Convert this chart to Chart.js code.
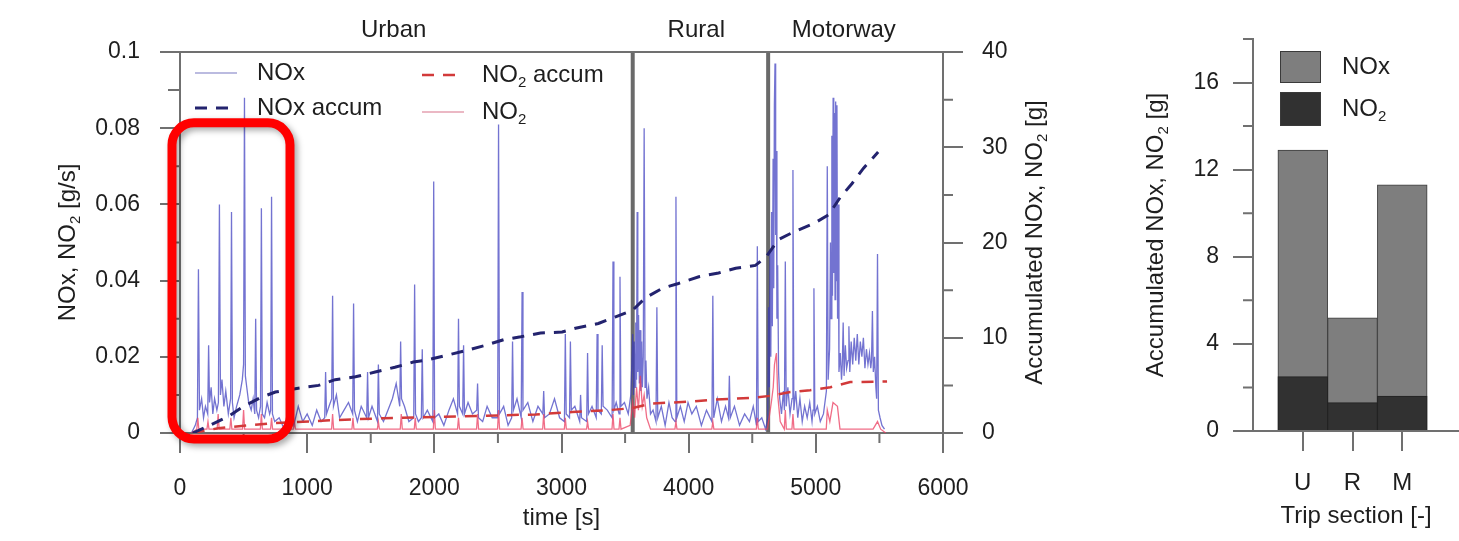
<!DOCTYPE html>
<html>
<head>
<meta charset="utf-8">
<script src="https://cdn.jsdelivr.net/npm/chart.js@4.4.0/dist/chart.umd.min.js"></script>
<style>
  body { margin: 0; background: #fff; }
  #wrap { position: relative; width: 1459px; height: 541px; overflow: hidden; }
  #left { position: absolute; left: 0; top: 0; }
  #right { position: absolute; left: 1080px; top: 0; }
</style>
</head>
<body>
<div id="wrap">
  <canvas id="left" width="1080" height="541"></canvas>
  <canvas id="right" width="379" height="541"></canvas>
</div>
<script>
// trip sections
const sectionNames = ["Urban", "Rural", "Motorway"];
const sectionLabelTimes = [1680, 4060, 5220];
const sectionEdges = [3560, 4625];

// NOx emission rate [g/s] as [time s, value]
const noxRate = [
  [90, 0.000], [120, 0.002], [137, 0.004], [145, 0.043], [153, 0.006], [170, 0.009], [185, 0.004], [200, 0.007],
  [218, 0.005], [225, 0.023], [232, 0.008], [245, 0.012], [258, 0.005], [272, 0.009], [290, 0.006],
  [302, 0.008], [310, 0.060], [318, 0.010], [330, 0.014], [345, 0.007], [360, 0.011], [380, 0.005],
  [398, 0.009], [405, 0.058], [412, 0.008], [425, 0.004], [445, 0.007], [470, 0.010], [490, 0.014],
  [500, 0.018], [507, 0.088], [514, 0.015], [525, 0.012], [540, 0.008], [560, 0.006], [575, 0.009],
  [588, 0.005], [595, 0.030], [602, 0.006], [618, 0.004], [633, 0.007], [640, 0.059], [647, 0.005],
  [665, 0.004], [685, 0.008], [705, 0.005], [713, 0.006], [720, 0.062], [727, 0.005], [745, 0.003],
  [780, 0.004], [820, 0.001], [860, 0.005], [895, 0.002], [930, 0.007], [965, 0.003], [1000, 0.005],
  [1040, 0.002], [1075, 0.006], [1110, 0.003], [1138, 0.004], [1145, 0.016], [1152, 0.005], [1172, 0.007],
  [1193, 0.009], [1200, 0.036], [1207, 0.007], [1230, 0.010], [1255, 0.004], [1290, 0.006], [1325, 0.008],
  [1358, 0.005], [1365, 0.034], [1372, 0.006], [1395, 0.003], [1425, 0.007], [1468, 0.004], [1475, 0.016],
  [1482, 0.004], [1510, 0.007], [1553, 0.003], [1560, 0.018], [1567, 0.005], [1600, 0.003], [1635, 0.006],
  [1670, 0.009], [1700, 0.013], [1728, 0.007], [1735, 0.024], [1742, 0.009], [1765, 0.007], [1800, 0.003],
  [1838, 0.004], [1845, 0.039], [1852, 0.005], [1875, 0.003], [1898, 0.004], [1905, 0.022], [1912, 0.004],
  [1945, 0.006], [1988, 0.003], [1995, 0.066], [2002, 0.004], [2035, 0.005], [2075, 0.002], [2115, 0.006],
  [2150, 0.009], [2183, 0.005], [2190, 0.030], [2197, 0.007], [2223, 0.005], [2230, 0.023], [2237, 0.005],
  [2265, 0.008], [2300, 0.005], [2333, 0.006], [2340, 0.013], [2347, 0.004], [2380, 0.003], [2415, 0.007],
  [2455, 0.004], [2498, 0.004], [2505, 0.081], [2512, 0.005], [2545, 0.007], [2580, 0.002], [2608, 0.004],
  [2615, 0.024], [2622, 0.006], [2650, 0.009], [2683, 0.004], [2690, 0.037], [2697, 0.006], [2735, 0.008],
  [2775, 0.003], [2815, 0.007], [2853, 0.005], [2860, 0.011], [2867, 0.004], [2905, 0.005], [2945, 0.009],
  [2985, 0.004], [3023, 0.003], [3030, 0.026], [3037, 0.005], [3063, 0.004], [3070, 0.024], [3077, 0.006],
  [3105, 0.007], [3143, 0.003], [3150, 0.010], [3157, 0.004], [3198, 0.003], [3205, 0.021], [3212, 0.005],
  [3240, 0.007], [3273, 0.004], [3280, 0.026], [3287, 0.006], [3313, 0.005], [3320, 0.023], [3327, 0.007],
  [3360, 0.006], [3398, 0.004], [3405, 0.045], [3412, 0.006], [3430, 0.008], [3453, 0.005], [3460, 0.041],
  [3467, 0.007], [3495, 0.008], [3525, 0.005], [3545, 0.010],
  [3553, 0.018], [3560, 0.026], [3566, 0.010], [3572, 0.024], [3578, 0.012], [3584, 0.029], [3590, 0.014],
  [3595, 0.058], [3600, 0.016], [3606, 0.031], [3612, 0.013], [3618, 0.027], [3624, 0.011], [3630, 0.024],
  [3636, 0.012], [3643, 0.020], [3650, 0.080], [3657, 0.012], [3664, 0.019], [3672, 0.009], [3685, 0.012],
  [3700, 0.005], [3720, 0.006], [3743, 0.003], [3750, 0.033], [3757, 0.004], [3785, 0.007], [3815, 0.002],
  [3845, 0.008], [3870, 0.004], [3893, 0.003], [3900, 0.062], [3907, 0.004], [3935, 0.007], [3965, 0.003],
  [3995, 0.008], [4025, 0.005], [4060, 0.007], [4100, 0.002], [4140, 0.006], [4183, 0.003], [4190, 0.036],
  [4197, 0.004], [4225, 0.009], [4258, 0.003], [4290, 0.007], [4313, 0.004], [4320, 0.015], [4327, 0.004],
  [4360, 0.007], [4400, 0.002], [4440, 0.005], [4478, 0.003], [4508, 0.007], [4533, 0.002], [4540, 0.049],
  [4547, 0.003], [4575, 0.004], [4605, 0.001],
  [4622, 0.004], [4628, 0.033], [4634, 0.012], [4640, 0.048], [4646, 0.020], [4652, 0.058], [4658, 0.028],
  [4664, 0.072], [4669, 0.038], [4674, 0.086], [4679, 0.097], [4684, 0.052], [4689, 0.074], [4694, 0.030],
  [4700, 0.044], [4707, 0.016], [4716, 0.009], [4730, 0.005], [4745, 0.011], [4753, 0.006], [4760, 0.045],
  [4767, 0.007], [4780, 0.012], [4797, 0.005], [4813, 0.009], [4820, 0.069], [4827, 0.006], [4842, 0.011],
  [4858, 0.004], [4875, 0.009], [4893, 0.003], [4912, 0.007], [4932, 0.004], [4952, 0.008], [4970, 0.003],
  [4978, 0.006], [4985, 0.038], [4992, 0.005], [5012, 0.007], [5035, 0.003], [5060, 0.005], [5083, 0.011],
  [5090, 0.070], [5097, 0.014], [5108, 0.022], [5115, 0.050], [5120, 0.030], [5126, 0.078], [5131, 0.036],
  [5136, 0.088], [5141, 0.042], [5146, 0.084], [5151, 0.035], [5156, 0.087], [5161, 0.040], [5166, 0.086],
  [5171, 0.030], [5176, 0.060], [5182, 0.016], [5192, 0.021], [5202, 0.014], [5208, 0.018], [5215, 0.029],
  [5222, 0.015], [5232, 0.023], [5242, 0.017], [5253, 0.019], [5260, 0.028], [5267, 0.016], [5278, 0.024],
  [5290, 0.018], [5302, 0.025], [5314, 0.019], [5326, 0.026], [5338, 0.018], [5350, 0.024], [5362, 0.020],
  [5374, 0.025], [5386, 0.017], [5398, 0.022], [5410, 0.018], [5422, 0.021], [5432, 0.017], [5438, 0.019],
  [5445, 0.032], [5452, 0.016], [5462, 0.020], [5472, 0.012], [5478, 0.009], [5485, 0.047], [5492, 0.006],
  [5505, 0.004], [5520, 0.002], [5540, 0.001]
];

// NO2 emission rate [g/s]
const no2Rate = [
  [90, 0], [132, 0.001], [140, 0.004], [148, 0.001], [212, 0.001], [220, 0.003], [228, 0.001],
  [292, 0.001], [300, 0.005], [308, 0.001], [392, 0.001], [400, 0.004], [408, 0.001], [492, 0.001],
  [500, 0.006], [508, 0.001], [632, 0.001], [640, 0.005], [648, 0.001], [712, 0.001], [720, 0.004],
  [728, 0.001], [892, 0.001], [900, 0.003], [908, 0.001], [1192, 0.001], [1200, 0.005], [1208, 0.001],
  [1352, 0.001], [1360, 0.004], [1368, 0.001], [1552, 0.001], [1560, 0.003], [1568, 0.001], [1732, 0.001],
  [1740, 0.005], [1748, 0.001], [1842, 0.001], [1850, 0.004], [1858, 0.001], [1992, 0.001], [2000, 0.006],
  [2008, 0.001], [2182, 0.001], [2190, 0.004], [2198, 0.001], [2332, 0.001], [2340, 0.005], [2348, 0.001],
  [2497, 0.001], [2505, 0.006], [2513, 0.001], [2682, 0.001], [2690, 0.004], [2698, 0.001], [2852, 0.001],
  [2860, 0.005], [2868, 0.001], [3022, 0.001], [3030, 0.004], [3038, 0.001], [3197, 0.001], [3205, 0.003],
  [3213, 0.001], [3397, 0.001], [3405, 0.005], [3413, 0.001], [3452, 0.001], [3460, 0.004], [3468, 0.001],
  [3540, 0.002], [3560, 0.008], [3575, 0.004], [3590, 0.012], [3605, 0.006], [3620, 0.015], [3635, 0.007],
  [3650, 0.010], [3670, 0.004], [3700, 0.001], [3892, 0.001], [3900, 0.003], [3908, 0.001], [4182, 0.001],
  [4190, 0.003], [4198, 0.001], [4532, 0.001], [4540, 0.004], [4548, 0.001], [4620, 0.001], [4650, 0.008],
  [4665, 0.012], [4675, 0.018], [4690, 0.021], [4700, 0.010], [4720, 0.003], [4752, 0.001], [4760, 0.006],
  [4768, 0.001], [4812, 0.001], [4820, 0.005], [4828, 0.001], [5082, 0.001], [5090, 0.006], [5110, 0.003],
  [5135, 0.008], [5170, 0.007], [5190, 0.001], [5450, 0.001], [5485, 0.003], [5510, 0.001], [5550, 0]
];

// accumulated emissions [g]
const noxAccum = [
  [100, 0], [200, 0.6], [375, 1.7], [500, 2.8], [630, 3.7], [750, 4.3], [930, 4.7], [1090, 5.0], [1220, 5.6],
  [1380, 5.9], [1535, 6.4], [1690, 6.9], [1835, 7.45], [1955, 7.7], [2110, 8.2], [2260, 8.7], [2400, 9.2],
  [2545, 9.8], [2680, 10.1], [2835, 10.5], [3005, 10.6], [3110, 11.0], [3290, 11.5], [3425, 12.2], [3560, 12.9],
  [3660, 14.2], [3795, 15.2], [3920, 15.7], [4080, 16.4], [4235, 16.8], [4370, 17.3], [4525, 17.6], [4610, 18.5],
  [4705, 20.3], [4825, 21.1], [4985, 22.0], [5100, 22.9], [5190, 24.7], [5285, 26.2], [5375, 27.8], [5490, 29.5]
];
const no2Accum = [
  [100, 0], [300, 0.5], [700, 1.0], [1200, 1.35], [1600, 1.55], [2200, 1.75], [2800, 1.95], [3085, 2.2],
  [3370, 2.4], [3550, 2.6], [3715, 3.1], [4030, 3.3], [4185, 3.5], [4510, 3.7], [4640, 3.9], [4800, 4.3],
  [4955, 4.5], [5115, 4.8], [5270, 5.35], [5560, 5.4]
];

// accumulated per trip section [g]
const tripSections = ["U", "R", "M"];
const noxSection = [12.9, 5.2, 11.3];
const no2Section = [2.5, 1.3, 1.6];

const FONT = "'Liberation Sans', Arial, sans-serif";
const axisGrey = "#707070";
const textCol = "#1e1e1e";

// text with "₂" drawn as a small lowered 2
function richText(ctx, text, x, y, size, align) {
  const parts = text.split("₂");
  const big = size + "px " + FONT;
  const small = Math.round(size * 0.62) + "px " + FONT;
  let w = 0;
  parts.forEach((p, i) => {
    ctx.font = big; w += ctx.measureText(p).width;
    if (i < parts.length - 1) { ctx.font = small; w += ctx.measureText("2").width; }
  });
  let cx = align === "center" ? x - w / 2 : x;
  ctx.textAlign = "left";
  ctx.textBaseline = "middle";
  parts.forEach((p, i) => {
    ctx.font = big; ctx.fillText(p, cx, y); cx += ctx.measureText(p).width;
    if (i < parts.length - 1) {
      ctx.font = small; ctx.fillText("2", cx, y + size * 0.32); cx += ctx.measureText("2").width;
    }
  });
}

function rotText(ctx, text, x, y, size) {
  ctx.save();
  ctx.fillStyle = textCol;
  ctx.translate(x, y);
  ctx.rotate(-Math.PI / 2);
  richText(ctx, text, 0, 0, size, "center");
  ctx.restore();
}

function drawMinorTicks(chart, id, step, len) {
  const s = chart.scales[id];
  const ctx = chart.ctx;
  ctx.save();
  ctx.strokeStyle = axisGrey;
  ctx.lineWidth = 2;
  ctx.beginPath();
  for (let v = step; v <= s.max + step * 0.01; v += 2 * step) {
    const p = s.getPixelForValue(v);
    if (s.isHorizontal()) { ctx.moveTo(p, s.top); ctx.lineTo(p, s.top + len); }
    else if (s.position === "left") { ctx.moveTo(s.right - len, p); ctx.lineTo(s.right, p); }
    else { ctx.moveTo(s.left, p); ctx.lineTo(s.left + len, p); }
  }
  ctx.stroke();
  ctx.restore();
}

function axisOpts(extra) {
  return Object.assign({
    grid: { drawOnChartArea: false, offset: false, tickLength: 20, tickWidth: 2, tickColor: axisGrey, lineWidth: 2, color: axisGrey },
    border: { display: true, color: axisGrey, width: 2 }
  }, extra);
}

const tickFont = { family: FONT, size: 23 };

// ---------- left: time series ----------
const leftLegend = [
  { ds: 3, x: 195, y: 73, tx: 257 },
  { ds: 0, x: 195, y: 108, tx: 257 },
  { ds: 1, x: 422, y: 75, tx: 482 },
  { ds: 2, x: 422, y: 112, tx: 482 }
];

const leftDecor = {
  id: "leftDecor",
  afterDraw(chart) {
    const { ctx, chartArea: a, scales } = chart;
    ctx.save();
    ctx.strokeStyle = axisGrey;
    ctx.lineWidth = 2;
    ctx.beginPath(); ctx.moveTo(a.left, a.top); ctx.lineTo(a.right, a.top); ctx.stroke();
    ctx.restore();

    drawMinorTicks(chart, "x", 500, 10);
    drawMinorTicks(chart, "y", 0.01, 12);
    drawMinorTicks(chart, "yAcc", 5, 10);

    ctx.save();
    ctx.fillStyle = textCol;
    ctx.font = "24px " + FONT;
    ctx.textAlign = "center";
    ctx.textBaseline = "middle";
    sectionNames.forEach((n, i) => ctx.fillText(n, scales.x.getPixelForValue(sectionLabelTimes[i]), 30));
    ctx.restore();

    const midY = (a.top + a.bottom) / 2;
    rotText(ctx, "NOx, NO₂ [g/s]", 68, midY, 24);
    rotText(ctx, "Accumulated NOx, NO₂ [g]", 1035, midY, 24);

    // legend
    leftLegend.forEach(item => {
      const d = chart.data.datasets[item.ds];
      const dashed = !!d.borderDash;
      ctx.save();
      ctx.strokeStyle = d.legendColor || d.borderColor;
      ctx.lineWidth = d.borderWidth;
      if (dashed) ctx.setLineDash(d.borderDash);
      ctx.beginPath();
      ctx.moveTo(item.x, item.y);
      ctx.lineTo(item.x + (dashed ? 33 : 42), item.y);
      ctx.stroke();
      ctx.restore();
      ctx.save();
      ctx.fillStyle = textCol;
      richText(ctx, d.label, item.tx, item.y, 24, "left");
      ctx.restore();
    });

    // highlighted start of the trip
    const x0 = scales.x.getPixelForValue(-63), x1 = scales.x.getPixelForValue(865);
    const y0 = scales.y.getPixelForValue(0.0814), y1 = scales.y.getPixelForValue(-0.0016);
    const r = 22;
    ctx.save();
    ctx.shadowColor = "rgba(0,0,0,0.35)";
    ctx.shadowBlur = 6;
    ctx.shadowOffsetX = 3;
    ctx.shadowOffsetY = 3;
    ctx.strokeStyle = "#ff0000";
    ctx.lineWidth = 9;
    ctx.beginPath();
    ctx.moveTo(x0 + r, y0);
    ctx.arcTo(x1, y0, x1, y1, r);
    ctx.arcTo(x1, y1, x0, y1, r);
    ctx.arcTo(x0, y1, x0, y0, r);
    ctx.arcTo(x0, y0, x1, y0, r);
    ctx.closePath();
    ctx.stroke();
    ctx.restore();
  }
};

new Chart(document.getElementById("left"), {
  type: "line",
  data: {
    datasets: [
      { label: "NOx accum", data: noxAccum, yAxisID: "yAcc", borderColor: "#23236e", borderWidth: 3, borderDash: [12, 9], order: 1 },
      { label: "NO₂ accum", data: no2Accum, yAxisID: "yAcc", borderColor: "#d23a3a", borderWidth: 2.5, borderDash: [12, 9], order: 2 },
      { label: "NO₂", data: no2Rate, yAxisID: "y", borderColor: "rgba(235,60,95,0.75)", legendColor: "#e4a0b0", borderWidth: 1.3, order: 3 },
      { label: "NOx", data: noxRate, yAxisID: "y", borderColor: "rgba(55,55,190,0.7)", legendColor: "#a4a4d6", borderWidth: 1.3, order: 4 },
      ...sectionEdges.map(t => ({
        label: "", data: [[t, 0], [t, 0.1]], yAxisID: "y", borderColor: "#6a6a6a", borderWidth: 4, order: 5
      }))
    ]
  },
  options: {
    responsive: false,
    animation: false,
    elements: { point: { radius: 0 }, line: { tension: 0 } },
    layout: { padding: { top: 52, left: 0, right: 0, bottom: 0 } },
    plugins: { legend: { display: false }, tooltip: { enabled: false } },
    scales: {
      x: axisOpts({
        type: "linear", min: 0, max: 6000,
        ticks: { stepSize: 1000, padding: 22, font: tickFont, color: textCol, maxRotation: 0, callback: v => String(v) },
        title: { display: true, text: "time [s]", font: { family: FONT, size: 24 }, color: textCol, padding: { top: 0, bottom: 8 } },
        afterFit: s => { s.height = 108; }
      }),
      y: axisOpts({
        position: "left", min: 0, max: 0.1,
        ticks: { stepSize: 0.02, padding: 20, font: tickFont, color: textCol, callback: v => String(+v.toFixed(2)) },
        afterFit: s => { s.width = 180; }
      }),
      yAcc: axisOpts({
        position: "right", min: 0, max: 40,
        ticks: { stepSize: 10, padding: 19, font: tickFont, color: textCol },
        afterFit: s => { s.width = 137; }
      })
    }
  },
  plugins: [leftDecor]
});

// ---------- right: per section bars ----------
const rightDecor = {
  id: "rightDecor",
  afterDraw(chart) {
    const { ctx, chartArea: a } = chart;
    drawMinorTicks(chart, "y", 2, 10);
    rotText(ctx, "Accumulated NOx, NO₂ [g]", 76, (a.top + a.bottom) / 2, 24);
    const items = [
      { ds: 0, y: 51, h: 32 },
      { ds: 1, y: 92, h: 34 }
    ];
    items.forEach(it => {
      const d = chart.data.datasets[it.ds];
      ctx.save();
      ctx.fillStyle = d.backgroundColor;
      ctx.strokeStyle = "#3a3a3a";
      ctx.lineWidth = 1;
      ctx.fillRect(200, it.y, 41, it.h);
      ctx.strokeRect(200.5, it.y + 0.5, 40, it.h - 1);
      ctx.fillStyle = textCol;
      richText(ctx, d.label, 262, it.y + it.h / 2, 24, "left");
      ctx.restore();
    });
  }
};

new Chart(document.getElementById("right"), {
  type: "bar",
  data: {
    datasets: [
      {
        label: "NOx", data: noxSection.map((v, i) => ({ x: i + 1, y: v })),
        backgroundColor: "#7e7e7e", borderColor: "#3c3c3c", borderWidth: 1, order: 2
      },
      {
        label: "NO₂", data: no2Section.map((v, i) => ({ x: i + 1, y: v })),
        backgroundColor: "#313131", borderColor: "#222", borderWidth: 1, order: 1
      }
    ]
  },
  options: {
    responsive: false,
    animation: false,
    datasets: { bar: { grouped: false, barPercentage: 1, categoryPercentage: 1 } },
    layout: { padding: { top: 39, left: 0, right: 0, bottom: 0 } },
    plugins: { legend: { display: false }, tooltip: { enabled: false } },
    scales: {
      x: axisOpts({
        type: "linear", min: 0, max: 4.14, offset: false,
        afterBuildTicks: s => { s.ticks = tripSections.map((_, i) => ({ value: i + 1 })); },
        ticks: { padding: 18, font: { family: FONT, size: 24 }, color: textCol, maxRotation: 0, callback: v => tripSections[Math.round(v) - 1] || "" },
        title: { display: true, text: "Trip section [-]", font: { family: FONT, size: 24 }, color: textCol, padding: { top: 0, bottom: 10 } },
        afterFit: s => { s.height = 110; }
      }),
      y: axisOpts({
        position: "left", min: 0, max: 18,
        afterBuildTicks: s => { s.ticks = [0, 4, 8, 12, 16].map(v => ({ value: v })); },
        ticks: { padding: 14, font: tickFont, color: textCol },
        afterFit: s => { s.width = 173; }
      })
    }
  },
  plugins: [rightDecor]
});
</script>
</body>
</html>
